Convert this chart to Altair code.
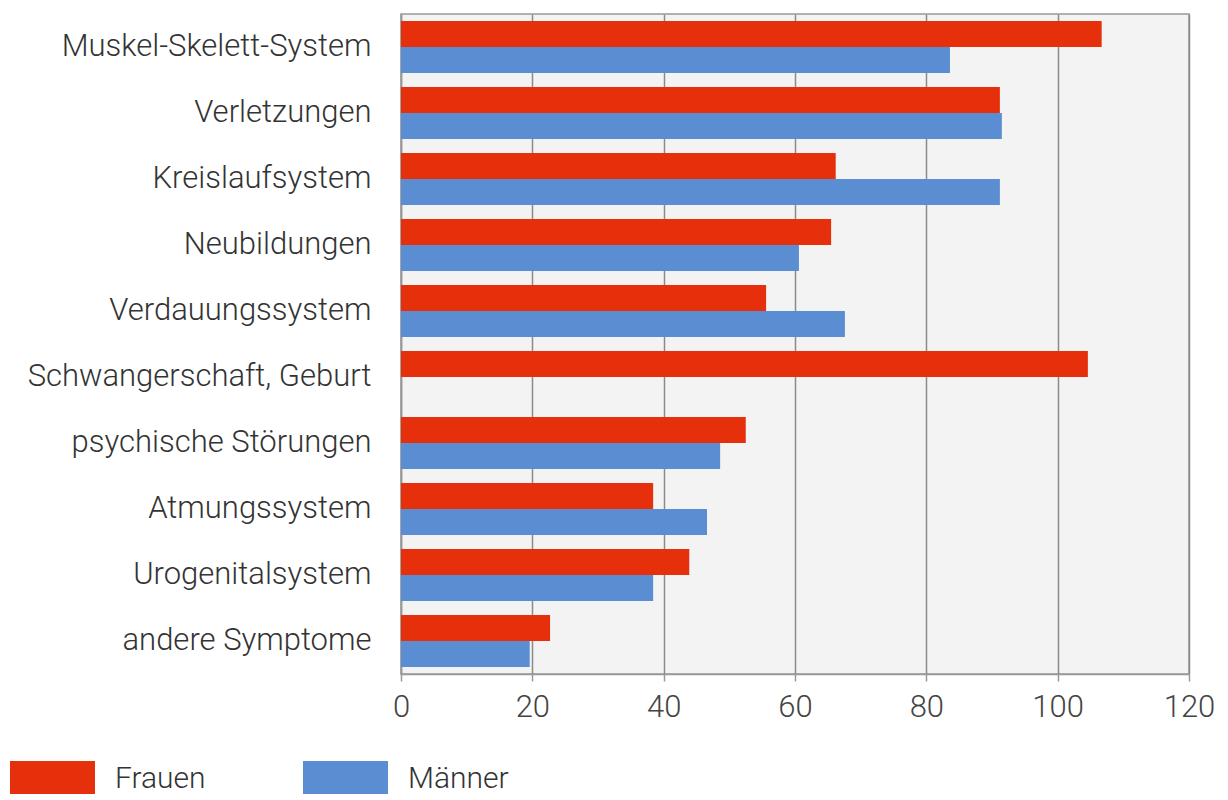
import altair as alt
import pandas as pd

categories = [
    "Muskel-Skelett-System", "Verletzungen", "Kreislaufsystem", "Neubildungen",
    "Verdauungssystem", "Schwangerschaft, Geburt", "psychische Störungen",
    "Atmungssystem", "Urogenitalsystem", "andere Symptome",
]
frauen = [106.7, 91.2, 66.2, 65.5, 55.6, 104.6, 52.5, 38.4, 43.9, 22.7]
maenner = [83.6, 91.5, 91.2, 60.6, 67.6, None, 48.6, 46.6, 38.4, 19.6]
groups = ["Frauen", "Männer"]
colors = ["#e6300c", "#5b8dd3"]
x_ticks = [0, 20, 40, 60, 80, 100, 120]

rows = []
for c, f, m in zip(categories, frauen, maenner):
    rows.append({"Kategorie": c, "Gruppe": "Frauen", "Wert": f})
    if m is not None:
        rows.append({"Kategorie": c, "Gruppe": "Männer", "Wert": m})
df = pd.DataFrame(rows)

FONT = "Roboto"

chart = alt.Chart(df).mark_bar().encode(
    y=alt.Y("Kategorie:N", sort=categories, title=None,
            scale=alt.Scale(paddingInner=0.21, paddingOuter=0.105),
            axis=alt.Axis(ticks=False, labelPadding=30, labelFontSize=31,
                          labelColor="#333333", labelFont=FONT, labelFontWeight=300,
                          domain=True, domainColor="#999999", domainWidth=1.5,
                          labelLimit=500, grid=False)),
    yOffset=alt.YOffset("Gruppe:N", sort=groups, scale=alt.Scale(domain=groups)),
    x=alt.X("Wert:Q", title=None,
            scale=alt.Scale(domain=[0, 120], nice=False),
            axis=alt.Axis(values=x_ticks, grid=True, gridColor="#8a8a8a", gridWidth=1.5,
                          domainColor="#999999", domainWidth=1.5, tickColor="#999999",
                          tickSize=7, tickWidth=1.5, labelFontSize=31, labelColor="#444444",
                          labelFont=FONT, labelFontWeight=300, labelPadding=11,
                          labelFlush=False, labelOverlap=False)),
    color=alt.Color("Gruppe:N", sort=groups,
                    scale=alt.Scale(domain=groups, range=colors),
                    legend=alt.Legend(title=None, orient="none", direction="horizontal",
                                      legendX=-391, legendY=722,
                                      symbolType="M-1,-0.41H1V0.41H-1Z",
                                      symbolSize=7225, symbolStrokeWidth=0,
                                      symbolOpacity=1,
                                      labelFontSize=30, labelFont=FONT, labelFontWeight=300,
                                      labelColor="#333333", labelOffset=20,
                                      columnPadding=97)),
).properties(
    width=788, height=660,
    autosize=alt.AutoSizeParams(type="none"),
    padding={"left": 393, "top": 6, "right": 29, "bottom": 120},
).configure_view(
    fill="#f3f3f3", stroke="#999999", strokeWidth=1.5,
)

chart.save("out.html", embed_options={"renderer": "svg", "actions": False})
